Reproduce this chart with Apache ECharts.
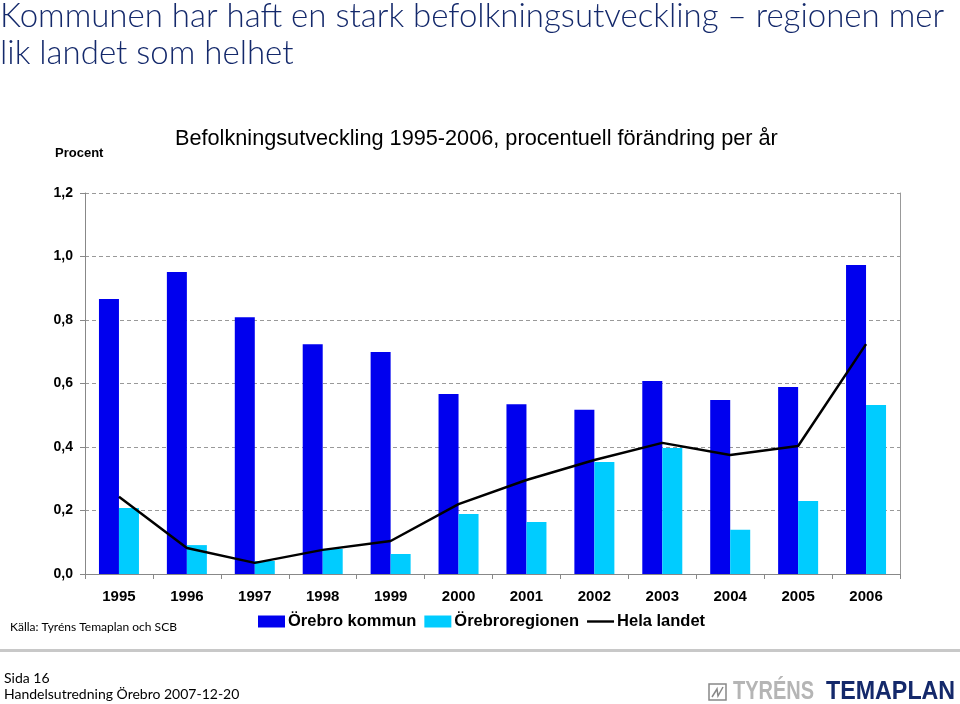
<!DOCTYPE html>
<html><head><meta charset="utf-8">
<script src="https://cdn.jsdelivr.net/npm/echarts@6/dist/echarts.min.js"></script>
<style>html,body{margin:0;padding:0;background:#fff}#c{width:960px;height:704px}</style>
</head><body><div id="c"></div>
<script>
const years = ['1995','1996','1997','1998','1999','2000','2001','2002','2003','2004','2005','2006'];
const orebroKommun = [0.866,0.951,0.809,0.724,0.699,0.567,0.535,0.517,0.608,0.548,0.589,0.973];
const orebroRegionen = [0.208,0.091,0.041,0.079,0.063,0.189,0.164,0.353,0.397,0.139,0.230,0.532];
const helaLandet = [0.243,0.082,0.035,0.076,0.104,0.220,0.296,0.359,0.413,0.375,0.403,0.724];
const seriesNames = ['Örebro kommun','Örebroregionen','Hela landet'];

const chart = echarts.init(document.getElementById('c'));
const fmt = v => v.toFixed(1).replace('.', ',');
chart.setOption({
  animation:false,
  backgroundColor:'#fff',
  grid:{left:85,right:60,top:193,bottom:130},
  legend:{
    data:[{name:seriesNames[0],icon:'rect'},{name:seriesNames[1],icon:'rect'},{name:seriesNames[2],icon:'path://M0,0 H28 V2.5 H0 Z'}],
    left:253, top:608, itemWidth:27, itemHeight:12, itemGap:8,
    textStyle:{fontFamily:'Liberation Sans',fontWeight:'bold',fontSize:16.5,color:'#000',padding:[0,0,0,-2]}
  },
  xAxis:{type:'category',data:years,
    axisLine:{lineStyle:{color:'#888',width:1}},
    axisTick:{show:true,length:5,lineStyle:{color:'#888'}},
    axisLabel:{margin:15,fontFamily:'Liberation Sans',fontWeight:'bold',fontSize:15,color:'#000'}
  },
  yAxis:[{type:'value',min:0,max:1.2,interval:0.2,
    axisLine:{show:true,lineStyle:{color:'#888'}},
    axisTick:{show:true,length:5,lineStyle:{color:'#888'}},
    axisLabel:{formatter:fmt,margin:12,fontFamily:'Liberation Sans',fontWeight:'bold',fontSize:14,color:'#000'},
    splitLine:{show:true,lineStyle:{color:'#999',type:[4,3],width:1}}
  },{type:'value',min:0,max:1.2,interval:0.2,position:'right',
    axisLine:{show:true,lineStyle:{color:'#999'}},axisTick:{show:false},axisLabel:{show:false},splitLine:{show:false}}],
  series:[
    {name:seriesNames[0],type:'bar',data:orebroKommun,barWidth:20,barGap:'0%',itemStyle:{color:'#0000ee'}},
    {name:seriesNames[1],type:'bar',data:orebroRegionen,barWidth:20,barGap:'0%',itemStyle:{color:'#00ccff'}},
    {name:seriesNames[2],type:'line',data:helaLandet,symbol:'none',lineStyle:{color:'#000',width:2.5},itemStyle:{color:'#000'}}
  ],
  graphic:[
    {type:'text',left:0,top:-2,style:{text:'Kommunen har haft en stark befolkningsutveckling – regionen mer\nlik landet som helhet',font:'300 33px Lato',fill:'#14296b',lineHeight:37}},
    {type:'text',left:55,top:147,style:{text:'Procent',font:'bold 13px "Liberation Sans"',fill:'#000'}},
    {type:'text',left:175,top:128,style:{text:'Befolkningsutveckling 1995-2006, procentuell förändring per år',font:'21.7px "Liberation Sans"',fill:'#000'}},
    {type:'text',left:10,top:621,style:{text:'Källa: Tyréns Temaplan och SCB',font:'12px Lato',fill:'#000'}},
    {type:'rect',shape:{x:0,y:649,width:960,height:3},style:{fill:'#c8c8c8'}},
    {type:'text',left:4,top:670,style:{text:'Sida 16\nHandelsutredning Örebro 2007-12-20',font:'14px Lato',fill:'#000',lineHeight:16}},
    {type:'rect',shape:{x:709,y:684,width:17,height:16},style:{fill:'none',stroke:'#888',lineWidth:1.5}},
    {type:'polyline',shape:{points:[[712,697],[717,689],[718,696],[723,687]]},style:{fill:'none',stroke:'#888',lineWidth:1.5}},
    {type:'text',x:733,y:680,scaleX:0.8,style:{text:'TYRÉNS',font:'bold 25px "Liberation Sans"',fill:'#b5b5b5'}},
    {type:'text',x:826,y:680,scaleX:0.93,style:{text:'TEMAPLAN',font:'bold 25px "Liberation Sans"',fill:'#14296b'}}
  ]
});
</script></body></html>
